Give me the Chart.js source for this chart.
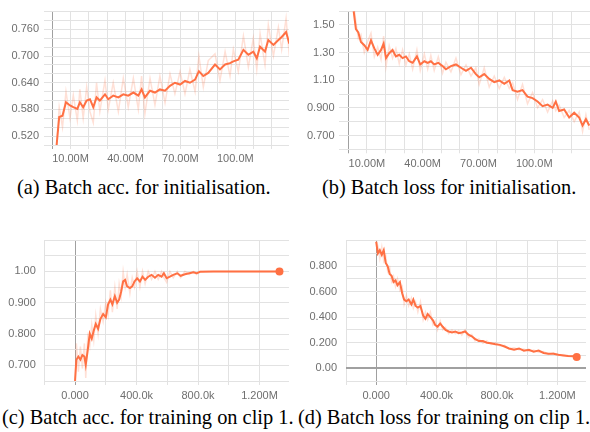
<!DOCTYPE html>
<html>
<head>
<meta charset="utf-8">
<script src="https://cdn.jsdelivr.net/npm/chart.js@4.4.1/dist/chart.umd.min.js"></script>
<style>
  body { margin: 0; width: 590px; height: 432px; overflow: hidden; background: #fff; position: relative; }
  canvas { position: absolute; }
  .caption { position: absolute; font-family: "Liberation Serif", "Times New Roman", serif; font-size: 20.4px; line-height: 24px; white-space: nowrap; color: #000; }
</style>
</head>
<body>
<canvas id="chartA" width="295" height="170" style="left:0;top:0"></canvas>
<canvas id="chartB" width="295" height="170" style="left:295px;top:0"></canvas>
<canvas id="chartC" width="295" height="180" style="left:0;top:225px"></canvas>
<canvas id="chartD" width="295" height="180" style="left:295px;top:225px"></canvas>
<div class="caption" style="left:17px;top:175px">(a) Batch acc. for initialisation.</div>
<div class="caption" style="left:322px;top:175px">(b) Batch loss for initialisation.</div>
<div class="caption" style="left:2px;top:405px">(c) Batch acc. for training on clip 1.</div>
<div class="caption" style="left:298px;top:405px">(d) Batch loss for training on clip 1.</div>
<script>
const ORANGE = '#ff7043';
const ORANGE_RAW = 'rgba(255, 112, 67, 0.22)';
const GRID = '#e2e2e2';
const AXIS = '#a0a0a0';

// (a) batch accuracy, initialisation (steps in millions)
const accInitSteps = [2.4, 3.8, 5.6, 7.5, 9.7, 11.5, 13.7, 15.1, 16.9, 18.8,
  20.6, 22.4, 24.2, 26.0, 28.8, 30.6, 33.3, 36.1, 38.8, 41.5,
  44.3, 47.0, 48.8, 50.6, 53.4, 56.1, 58.8, 61.6, 64.3, 67.0,
  69.8, 72.5, 75.2, 78.0, 80.1, 82.5, 85.2, 88.9, 91.6, 94.4,
  97.1, 98.9, 101.6, 104.4, 107.1, 109.8, 111.7, 113.5, 116.2, 118.0,
  120.8, 123.5, 125.3, 127.7, 129.5];
const accInitSmooth = [0.500, 0.563, 0.566, 0.596, 0.589, 0.585, 0.581, 0.596, 0.585, 0.600,
  0.603, 0.585, 0.607, 0.600, 0.614, 0.603, 0.611, 0.607, 0.614, 0.611,
  0.618, 0.611, 0.625, 0.607, 0.622, 0.618, 0.625, 0.622, 0.633, 0.640,
  0.636, 0.644, 0.640, 0.647, 0.666, 0.655, 0.662, 0.681, 0.670, 0.681,
  0.684, 0.688, 0.692, 0.714, 0.703, 0.710, 0.695, 0.721, 0.710, 0.736,
  0.725, 0.736, 0.743, 0.754, 0.728];
const accInitRaw = [0.500, 0.585, 0.540, 0.620, 0.560, 0.612, 0.555, 0.625, 0.560, 0.630,
  0.575, 0.550, 0.640, 0.575, 0.645, 0.580, 0.640, 0.575, 0.650, 0.585,
  0.650, 0.580, 0.655, 0.570, 0.650, 0.590, 0.655, 0.595, 0.660, 0.615,
  0.665, 0.615, 0.670, 0.620, 0.700, 0.630, 0.690, 0.705, 0.645, 0.710,
  0.655, 0.715, 0.665, 0.745, 0.675, 0.740, 0.670, 0.750, 0.680, 0.770,
  0.700, 0.765, 0.715, 0.785, 0.700];

// (b) batch loss, initialisation
const lossInitSteps = [2.9, 4.1, 5.4, 6.8, 8.6, 10.4, 12.2, 14.0, 15.8, 17.6,
  19.0, 20.3, 22.0, 23.8, 25.6, 27.4, 29.2, 31.0, 32.8, 34.6,
  36.9, 38.7, 40.9, 42.7, 44.4, 46.2, 48.4, 50.7, 52.5, 55.2,
  57.9, 60.6, 63.3, 66.0, 68.6, 70.4, 73.1, 75.8, 78.5, 81.2,
  83.9, 86.6, 88.4, 91.0, 93.7, 96.4, 99.1, 101.8, 104.5, 107.2,
  109.9, 111.6, 113.4, 116.1, 118.8, 121.5, 124.2, 126.0, 127.8, 129.6];
const lossInitSmooth = [1.598, 1.470, 1.446, 1.377, 1.353, 1.319, 1.388, 1.330, 1.284, 1.319,
  1.365, 1.260, 1.295, 1.319, 1.272, 1.284, 1.260, 1.272, 1.237, 1.226,
  1.272, 1.214, 1.237, 1.226, 1.237, 1.214, 1.226, 1.202, 1.179, 1.202,
  1.214, 1.190, 1.167, 1.190, 1.144, 1.121, 1.144, 1.109, 1.086, 1.098,
  1.074, 1.098, 1.028, 1.016, 1.028, 0.981, 0.970, 0.946, 0.912, 0.923,
  0.900, 0.946, 0.877, 0.888, 0.830, 0.865, 0.830, 0.772, 0.818, 0.772];
const lossInitRaw = [1.650, 1.520, 1.400, 1.430, 1.300, 1.380, 1.440, 1.270, 1.340, 1.250,
  1.420, 1.200, 1.350, 1.260, 1.330, 1.220, 1.320, 1.210, 1.290, 1.180,
  1.320, 1.170, 1.290, 1.180, 1.280, 1.170, 1.270, 1.150, 1.230, 1.160,
  1.260, 1.140, 1.210, 1.130, 1.190, 1.070, 1.190, 1.050, 1.130, 1.040,
  1.120, 1.040, 1.080, 0.960, 1.070, 0.930, 1.010, 0.900, 0.960, 0.870,
  0.950, 0.880, 0.920, 0.830, 0.880, 0.800, 0.870, 0.730, 0.850, 0.740];

// (c) batch accuracy, clip 1 (steps in thousands)
const accClipSteps = [0, 8.7, 21.7, 34.8, 47.8, 60.9, 69.6, 82.6, 95.7, 108.7,
  121.7, 134.8, 150, 165, 182.6, 200, 215, 230, 243, 259,
  274, 287, 300, 313, 326, 339, 357, 372, 387, 404,
  422, 439, 456, 476, 498, 520, 541, 563, 578, 596,
  617, 639, 665, 687, 715, 743, 770, 791, 813, 900,
  1000, 1100, 1200, 1330];
const accClipSmooth = [0.650, 0.718, 0.728, 0.718, 0.733, 0.728, 0.702, 0.749, 0.801, 0.785,
  0.811, 0.832, 0.817, 0.848, 0.864, 0.853, 0.895, 0.910, 0.895, 0.921,
  0.900, 0.910, 0.936, 0.968, 0.973, 0.952, 0.947, 0.952, 0.968, 0.978,
  0.968, 0.983, 0.973, 0.983, 0.989, 0.980, 0.989, 0.983, 0.994, 0.978,
  0.983, 0.989, 0.994, 0.986, 0.991, 0.994, 0.997, 0.994, 0.999, 1.000,
  1.000, 1.000, 1.000, 1.000];
const accClipRaw = [0.650, 0.770, 0.680, 0.760, 0.690, 0.770, 0.660, 0.790, 0.760, 0.830,
  0.780, 0.860, 0.800, 0.880, 0.840, 0.900, 0.860, 0.940, 0.870, 0.950,
  0.880, 0.960, 0.920, 1.000, 0.950, 0.990, 0.930, 0.980, 0.950, 1.000,
  0.950, 1.000, 0.960, 1.000, 0.975, 1.000, 0.975, 1.000, 0.980, 0.965,
  1.000, 0.980, 1.000, 0.980, 1.000, 0.990, 1.000, 0.990, 1.000, 1.000,
  1.000, 1.000, 1.000, 1.000];

// (d) batch loss, clip 1
const lossClipSteps = [0, 10.9, 23.9, 37, 50, 63, 76, 89, 102, 115,
  128, 141, 157, 172, 185, 200, 215, 233, 246, 261,
  276, 293, 311, 326, 341, 359, 376, 391, 406, 424,
  441, 459, 480, 502, 524, 546, 567, 589, 611, 633,
  654, 680, 707, 733, 761, 789, 820, 850, 880, 913,
  946, 978, 1011, 1043, 1076, 1109, 1141, 1174, 1207, 1239,
  1272, 1304, 1328];
const lossClipSmooth = [0.990, 0.900, 0.925, 0.888, 0.925, 0.825, 0.800, 0.738, 0.725, 0.675,
  0.688, 0.650, 0.675, 0.588, 0.538, 0.525, 0.538, 0.500, 0.538, 0.488,
  0.475, 0.488, 0.413, 0.388, 0.425, 0.400, 0.375, 0.338, 0.325, 0.350,
  0.325, 0.300, 0.288, 0.280, 0.288, 0.275, 0.280, 0.288, 0.263, 0.250,
  0.230, 0.213, 0.213, 0.200, 0.195, 0.188, 0.183, 0.170, 0.155, 0.145,
  0.155, 0.138, 0.145, 0.130, 0.138, 0.120, 0.113, 0.113, 0.105, 0.100,
  0.095, 0.093, 0.088];
const lossClipRaw = [1.000, 0.960, 0.860, 0.950, 0.840, 0.880, 0.760, 0.790, 0.680, 0.720,
  0.640, 0.700, 0.610, 0.640, 0.500, 0.570, 0.490, 0.550, 0.470, 0.520,
  0.440, 0.520, 0.380, 0.440, 0.380, 0.440, 0.340, 0.370, 0.300, 0.370,
  0.300, 0.320, 0.270, 0.300, 0.270, 0.295, 0.260, 0.300, 0.240, 0.265,
  0.215, 0.230, 0.195, 0.215, 0.185, 0.200, 0.175, 0.180, 0.150, 0.160,
  0.145, 0.150, 0.132, 0.142, 0.125, 0.130, 0.108, 0.120, 0.100, 0.108,
  0.092, 0.098, 0.088];

// tick grids and labels
const initXGrid = [0, 10, 20, 30, 40, 50, 60, 70, 80, 90, 100, 110, 120];
const initXLabelVals = [10, 40, 70, 100];
const initXLabels = ['10.00M', '40.00M', '70.00M', '100.0M'];
const clipXGrid = [-200, 0, 200, 400, 600, 800, 1000, 1200];
const clipXLabelVals = [0, 400, 800, 1200];
const clipXLabels = ['0.000', '400.0k', '800.0k', '1.200M'];

const accInitYGrid = [0.50, 0.52, 0.54, 0.56, 0.58, 0.60, 0.62, 0.64, 0.66, 0.68, 0.70, 0.72, 0.74, 0.76, 0.78, 0.80];
const accInitYLabelVals = [0.52, 0.58, 0.64, 0.70, 0.76];
const accInitYLabels = ['0.520', '0.580', '0.640', '0.700', '0.760'];
const lossInitYGrid = [0.6, 0.7, 0.8, 0.9, 1.0, 1.1, 1.2, 1.3, 1.4, 1.5, 1.6];
const lossInitYLabelVals = [0.7, 0.9, 1.1, 1.3, 1.5];
const lossInitYLabels = ['0.700', '0.900', '1.10', '1.30', '1.50'];
const accClipYGrid = [0.65, 0.70, 0.75, 0.80, 0.85, 0.90, 0.95, 1.00, 1.05, 1.10];
const accClipYLabelVals = [0.7, 0.8, 0.9, 1.0];
const accClipYLabels = ['0.700', '0.800', '0.900', '1.00'];
const lossClipYGrid = [-0.1, 0, 0.1, 0.2, 0.3, 0.4, 0.5, 0.6, 0.7, 0.8, 0.9, 1.0];
const lossClipYLabelVals = [0, 0.2, 0.4, 0.6, 0.8];
const lossClipYLabels = ['0.00', '0.200', '0.400', '0.600', '0.800'];

function makePoints(xs, ys) {
    return xs.map((x, i) => ({ x: x, y: ys[i] }));
}

function labelFor(vals, texts) {
    return function(value) {
        const i = vals.findIndex(v => Math.abs(v - value) < 1e-9);
        return i >= 0 ? texts[i] : '';
    };
}

function drawPanel(id, p) {
    const tickFont = { family: '"Liberation Sans", Arial, sans-serif', size: 11 };
    const n = p.steps.length;
    new Chart(document.getElementById(id), {
        type: 'line',
        data: {
            datasets: [{
                data: makePoints(p.steps, p.smooth),
                borderColor: ORANGE,
                borderWidth: 2,
                backgroundColor: ORANGE,
                pointRadius: ctx => (p.endDot && ctx.dataIndex === n - 1) ? 4 : 0,
                pointBorderWidth: 0,
                tension: 0,
                order: 0
            }, {
                data: makePoints(p.steps, p.raw),
                borderColor: ORANGE_RAW,
                borderWidth: 1.5,
                pointRadius: 0,
                tension: 0,
                order: 1
            }]
        },
        options: {
            responsive: false,
            animation: false,
            events: [],
            layout: { padding: { top: p.top, right: p.right, left: 0, bottom: 0 } },
            plugins: { legend: { display: false }, tooltip: { enabled: false } },
            scales: {
                x: {
                    type: 'linear',
                    min: p.xMin,
                    max: p.xMax,
                    afterBuildTicks: axis => { axis.ticks = p.xGrid.map(v => ({ value: v })); },
                    afterFit: scale => { scale.height = p.xHeight; },
                    border: { display: false },
                    grid: {
                        color: ctx => ctx.tick && ctx.tick.value === 0 ? AXIS : GRID,
                        tickLength: 4,
                        drawTicks: true
                    },
                    ticks: {
                        callback: labelFor(p.xLabelVals, p.xLabels),
                        autoSkip: false,
                        maxRotation: 0,
                        padding: p.xPad,
                        color: '#6f6f6f',
                        font: tickFont
                    }
                },
                y: {
                    min: p.yMin,
                    max: p.yMax,
                    afterBuildTicks: axis => { axis.ticks = p.yGrid.map(v => ({ value: v })); },
                    afterFit: scale => { scale.width = p.yWidth; },
                    border: { display: false },
                    grid: {
                        color: ctx => ctx.tick && Math.abs(ctx.tick.value) < 1e-9 ? AXIS : GRID,
                        lineWidth: ctx => ctx.tick && Math.abs(ctx.tick.value) < 1e-9 ? 2 : 1,
                        drawTicks: false,
                        tickLength: 0
                    },
                    ticks: {
                        callback: labelFor(p.yLabelVals, p.yLabels),
                        autoSkip: false,
                        padding: p.yPad,
                        color: '#6f6f6f',
                        font: tickFont
                    }
                }
            }
        }
    });
}

drawPanel('chartA', {
    steps: accInitSteps, smooth: accInitSmooth, raw: accInitRaw, endDot: false,
    xMin: -4.5, xMax: 129.3, xGrid: initXGrid, xLabelVals: initXLabelVals, xLabels: initXLabels,
    yMin: 0.5, yMax: 0.8, yGrid: accInitYGrid, yLabelVals: accInitYLabelVals, yLabels: accInitYLabels,
    top: 9, right: 6, yWidth: 44, xHeight: 25, yPad: 5, xPad: 3.5
});
drawPanel('chartB', {
    steps: lossInitSteps, smooth: lossInitSmooth, raw: lossInitRaw, endDot: false,
    xMin: -5, xMax: 130, xGrid: initXGrid, xLabelVals: initXLabelVals, xLabels: initXLabels,
    yMin: 0.6, yMax: 1.6, yGrid: lossInitYGrid, yLabelVals: lossInitYLabelVals, yLabels: lossInitYLabels,
    top: 6.5, right: 0, yWidth: 44, xHeight: 20.7, yPad: 4.5, xPad: 4
});
drawPanel('chartC', {
    steps: accClipSteps, smooth: accClipSmooth, raw: accClipRaw, endDot: true,
    xMin: -200, xMax: 1392, xGrid: clipXGrid, xLabelVals: clipXLabelVals, xLabels: clipXLabels,
    yMin: 0.65, yMax: 1.10, yGrid: accClipYGrid, yLabelVals: accClipYLabelVals, yLabels: accClipYLabels,
    top: 15, right: 6, yWidth: 44.3, xHeight: 24, yPad: 8.5, xPad: 4.4
});
drawPanel('chartD', {
    steps: lossClipSteps, smooth: lossClipSmooth, raw: lossClipRaw, endDot: true,
    xMin: -200, xMax: 1389.6, xGrid: clipXGrid, xLabelVals: clipXLabelVals, xLabels: clipXLabels,
    yMin: -0.1, yMax: 1.0, yGrid: lossClipYGrid, yLabelVals: lossClipYLabelVals, yLabels: lossClipYLabels,
    top: 10, right: 0, yWidth: 51, xHeight: 24, yPad: 9, xPad: 4.4
});
</script>
</body>
</html>
